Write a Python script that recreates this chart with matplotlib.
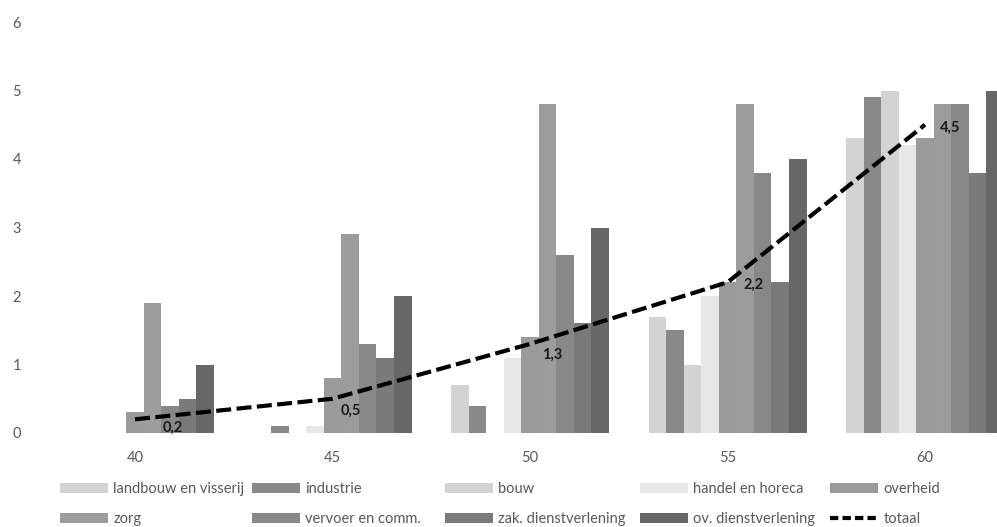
import numpy as np
import matplotlib
matplotlib.use("Agg")
import matplotlib.pyplot as plt
from matplotlib.patches import Patch
from matplotlib.lines import Line2D

plt.rcParams["font.family"] = ["Lato", "DejaVu Sans"]

# data
ages = ["40", "45", "50", "55", "60"]
sectors = ["landbouw en visserij", "industrie", "bouw", "handel en horeca", "overheid",
           "zorg", "vervoer en comm.", "zak. dienstverlening", "ov. dienstverlening"]
landbouw = [0.0, 0.0, 0.7, 1.7, 4.3]
industrie = [0.0, 0.1, 0.4, 1.5, 4.9]
bouw = [0.0, 0.0, 0.0, 1.0, 5.0]
handel = [0.0, 0.1, 1.1, 2.0, 4.2]
overheid = [0.3, 0.8, 1.4, 2.2, 4.3]
zorg = [1.9, 2.9, 4.8, 4.8, 4.8]
vervoer = [0.4, 1.3, 2.6, 3.8, 4.8]
zak = [0.5, 1.1, 1.6, 2.2, 3.8]
ov = [1.0, 2.0, 3.0, 4.0, 5.0]
totaal = [0.2, 0.5, 1.3, 2.2, 4.5]
totaal_labels = ["0,2", "0,5", "1,3", "2,2", "4,5"]

series = [landbouw, industrie, bouw, handel, overheid, zorg, vervoer, zak, ov]
colors = ["#d3d3d3", "#898989", "#d3d3d3", "#e7e7e7", "#9b9b9b",
          "#9c9c9c", "#888888", "#7a7a7a", "#676767"]
label_offsets = [(38, -8), (18, -12), (22, -11), (26, -2), (25, -3)]

W, H = 997, 527
fig = plt.figure(figsize=(W / 100, H / 100), dpi=100)
ax = fig.add_axes([0, (H - 433) / H, 1, (433 - 22) / H])

x = np.arange(len(ages))
n = len(series)
bw = 0.8 / n
for k, (vals, c) in enumerate(zip(series, colors)):
    ax.bar(x + (k - (n - 1) / 2) * bw, vals, bw, color=c, linewidth=0)

dash = (0, (3.6, 1.3))
ax.plot(x, totaal, color="black", lw=3, linestyle=dash, dash_capstyle="butt", zorder=5)

for xi, yi, lab, off in zip(x, totaal, totaal_labels, label_offsets):
    ax.annotate(lab, (xi, yi), xytext=(off[0] * 0.72, off[1] * 0.72),
                textcoords="offset points", ha="center", va="center",
                fontsize=10.5, fontweight="bold", color="#1a1a1a", zorder=6)

ax.set_xlim((0 - 135) / 197.5, (W - 135) / 197.5)
ax.set_ylim(0, 6)
ax.set_yticks(range(7))
ax.set_xticks(x)
ax.set_xticklabels(ages)
for s in ax.spines.values():
    s.set_visible(False)
ax.tick_params(axis="y", length=0, pad=-21 * 0.72, labelsize=10.5, labelcolor="#595959")
ax.tick_params(axis="x", length=0, pad=13, labelsize=10.5, labelcolor="#595959")
for t in ax.get_yticklabels():
    t.set_horizontalalignment("right")

# legend, five columns laid out like the original
handles = [Patch(color=c, linewidth=0) for c in colors]
handles.append(Line2D([], [], color="black", lw=3, linestyle=(0, (2, 1))))
names = sectors + ["totaal"]
col_x = [60, 252, 445, 640, 830]
for j, cx in enumerate(col_x):
    fig.legend([handles[j], handles[j + 5]], [names[j], names[j + 5]],
               loc="upper left", bbox_to_anchor=(cx / W, (H - 482) / H),
               frameon=False, ncol=1, fontsize=10.5, labelcolor="#595959",
               handlelength=3.3, handleheight=0.7, handletextpad=0.35,
               borderpad=0, borderaxespad=0, labelspacing=1.1)

fig.savefig("out.png", dpi=100)
